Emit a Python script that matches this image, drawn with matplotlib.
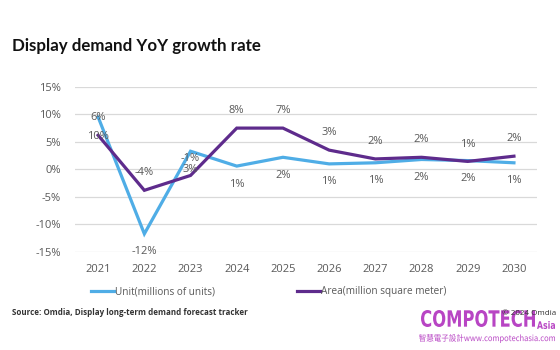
import matplotlib
matplotlib.use("Agg")
import matplotlib.pyplot as plt
from matplotlib.lines import Line2D
from matplotlib.textpath import TextPath
from matplotlib.patches import PathPatch
from matplotlib.font_manager import FontProperties
from matplotlib.transforms import Affine2D

years = ["2021", "2022", "2023", "2024", "2025", "2026", "2027", "2028", "2029", "2030"]
unit_vals = [9.5, -11.7, 3.3, 0.6, 2.2, 1.0, 1.2, 1.8, 1.6, 1.2]
area_vals = [6.2, -3.8, -1.1, 7.5, 7.5, 3.5, 1.9, 2.2, 1.45, 2.4]
unit_labels = ["6%", "-12%", "3%", "1%", "2%", "1%", "1%", "2%", "2%", "1%"]
area_labels = ["10%", "-4%", "-1%", "8%", "7%", "3%", "2%", "2%", "1%", "2%"]
yticks = [-15, -10, -5, 0, 5, 10, 15]
ytick_labels = ["-15%", "-10%", "-5%", "0%", "5%", "10%", "15%"]

BLUE = "#4FADE6"
PURPLE = "#5E2B8C"
GRAY = "#595959"
MAGENTA = "#B845C4"
FONT = ["Open Sans", "DejaVu Sans"]

plt.rcParams['font.family'] = FONT

W, H = 560, 350
fig = plt.figure(figsize=(5.6, 3.5), dpi=100)
ax = fig.add_axes([0.134, 0.28, 0.825, 0.472])

x = list(range(len(years)))
ax.plot(x, unit_vals, color=BLUE, lw=2.3, solid_joinstyle="miter", zorder=3)
ax.plot(x, area_vals, color=PURPLE, lw=2.3, solid_joinstyle="miter", zorder=4)

for i, (v, t) in enumerate(zip(unit_vals, unit_labels)):
    dy = 0 if i == 0 else -13
    ax.annotate(t, (i, v), xytext=(0, dy), textcoords="offset points",
                ha="center", va="center", fontsize=8, color=GRAY, zorder=5)
for i, (v, t) in enumerate(zip(area_vals, area_labels)):
    dy = -1 if i == 0 else 12.5
    ax.annotate(t, (i, v), xytext=(0, dy), textcoords="offset points",
                ha="center", va="center", fontsize=8, color=GRAY, zorder=5)

ax.set_xlim(-0.5, len(years) - 0.5)
ax.set_ylim(-15, 15)
ax.set_yticks(yticks)
ax.set_yticklabels(ytick_labels)
ax.set_xticks(x)
ax.set_xticklabels(years)
ax.tick_params(axis="both", length=0, labelsize=8, labelcolor=GRAY)
ax.tick_params(axis="y", pad=10)
ax.tick_params(axis="x", pad=9)
ax.grid(axis="y", color="#D9D9D9", lw=0.9)
ax.set_axisbelow(True)
for s in ax.spines.values():
    s.set_visible(False)

handles = [Line2D([], [], color=BLUE, lw=2.3), Line2D([], [], color=PURPLE, lw=2.3)]
fig.legend(handles, ["Unit(millions of units)", "Area(million square meter)"],
           loc="center", bbox_to_anchor=(0.480, 0.166), ncol=2, frameon=False,
           fontsize=7.2, handlelength=2.3, handletextpad=0.1, columnspacing=8.2,
           labelcolor=GRAY)

fig.text(0.021, 0.868, "Display demand YoY growth rate", fontsize=12.2,
         fontweight="bold", color="#111111", va="center", ha="left",
         family=["Lato", "DejaVu Sans"])
fig.text(0.021, 0.107, "Source: Omdia, Display long-term demand forecast tracker",
         fontsize=5.8, fontweight="bold", color="#333333", va="center", ha="left")
fig.text(0.993, 0.105, "© 2024 Omdia", fontsize=5.8, color="#333333",
         va="center", ha="right", zorder=12)


def fit_text(s, x0, x1, ytop, ybot, family, weight="normal"):
    """Draw text s squeezed into pixel box (x0..x1, ytop..ybot from top)."""
    tp = TextPath((0, 0), s, size=10,
                  prop=FontProperties(family=family, weight=weight))
    ext = tp.get_extents()
    sx = (x1 - x0) / ext.width
    sy = (ybot - ytop) / ext.height
    tr = Affine2D().translate(-ext.x0, -ext.y0).scale(sx, sy).translate(x0, H - ybot)
    fig.add_artist(PathPatch(tp, transform=tr, facecolor=MAGENTA,
                             edgecolor="none", zorder=10))


fit_text("COMPOTECH", 421, 535, 310, 327, ["DejaVu Sans"], "bold")
fit_text("Asia", 537, 555, 321, 329, ["DejaVu Sans"], "bold")
fit_text("智慧電子設計www.compotechasia.com", 419, 555, 334, 343,
         ["Noto Sans CJK TC"], "normal")

fig.savefig("out.png", dpi=100, facecolor="white")
